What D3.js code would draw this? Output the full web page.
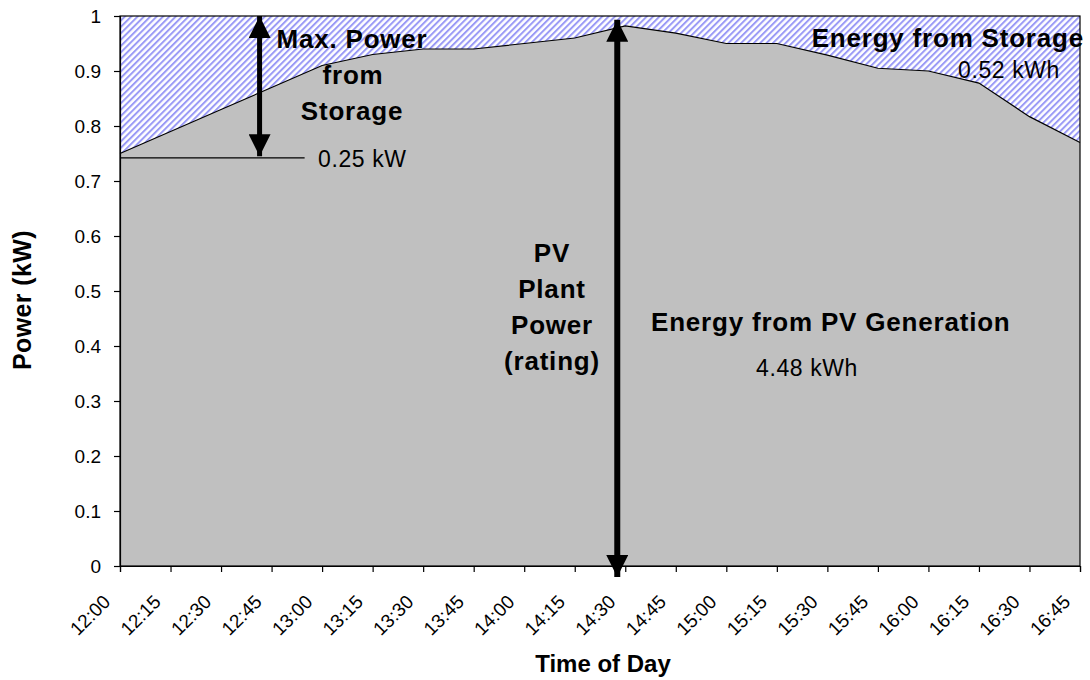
<html>
<head>
<script src='https://d3js.org/d3.v7.min.js'></script>
<style>
  body { margin: 0; background: white; }
  text { font-family: "Liberation Sans", Arial, sans-serif; fill: black; }
  .bold { font-weight: bold; }
</style>
</head>
<body>
<svg width="1090" height="680"></svg>
<script>
// data
var times = ["12:00", "12:15", "12:30", "12:45", "13:00", "13:15", "13:30", "13:45", "14:00", "14:15",
             "14:30", "14:45", "15:00", "15:15", "15:30", "15:45", "16:00", "16:15", "16:30", "16:45"];
var pvPower = [0.75, 0.79, 0.83, 0.87, 0.91, 0.93, 0.94, 0.94, 0.95, 0.96,
               0.982, 0.969, 0.95, 0.95, 0.929, 0.905, 0.90, 0.878, 0.817, 0.77];
var yTicks = [0, 0.1, 0.2, 0.3, 0.4, 0.5, 0.6, 0.7, 0.8, 0.9, 1];
var ratedPower = 1;
var storagePower = 0.25;

var margin = {left: 120, right: 10, top: 16, bottom: 114};
var width = 1090, height = 680;

var svg = d3.select("svg");

var x = d3.scalePoint().domain(times).range([margin.left, width - margin.right]);
var y = d3.scaleLinear().domain([0, 1]).range([height - margin.bottom, margin.top]);

var defs = svg.append("defs");
var pat = defs.append("pattern")
    .attr("id", "hatch")
    .attr("patternUnits", "userSpaceOnUse")
    .attr("width", 4.5)
    .attr("height", 4.5)
    .attr("patternTransform", "rotate(45)");
pat.append("rect").attr("width", 4.5).attr("height", 4.5).attr("fill", "white");
pat.append("rect").attr("width", 2).attr("height", 4.5).attr("fill", "#9a9af6");

function arrowHead(id, w, l) {
    defs.append("marker")
        .attr("id", id)
        .attr("viewBox", "0 0 " + l + " " + w)
        .attr("refX", l).attr("refY", w / 2)
        .attr("markerUnits", "userSpaceOnUse")
        .attr("markerWidth", l).attr("markerHeight", w)
        .attr("orient", "auto-start-reverse")
        .append("path")
        .attr("d", "M0,0L" + l + "," + (w / 2) + "L0," + w + "Z")
        .attr("fill", "black");
}
arrowHead("head", 22, 22);

// storage area (hatched) up to rated power
svg.append("rect")
    .attr("x", x(times[0]))
    .attr("y", y(ratedPower))
    .attr("width", x(times[times.length - 1]) - x(times[0]))
    .attr("height", y(0) - y(ratedPower))
    .attr("fill", "url(#hatch)");

// PV generation area
var area = d3.area()
    .x(function(d, i) { return x(times[i]); })
    .y0(y(0))
    .y1(function(d) { return y(d); });
svg.append("path")
    .datum(pvPower)
    .attr("d", area)
    .attr("fill", "#c0c0c0");

var line = d3.line()
    .x(function(d, i) { return x(times[i]); })
    .y(function(d) { return y(d); });
svg.append("path")
    .datum(pvPower)
    .attr("d", line)
    .attr("fill", "none")
    .attr("stroke", "black")
    .attr("stroke-width", 1.2);

// frame
svg.append("rect")
    .attr("x", x(times[0]))
    .attr("y", y(1))
    .attr("width", x(times[times.length - 1]) - x(times[0]))
    .attr("height", y(0) - y(1))
    .attr("fill", "none")
    .attr("stroke", "black")
    .attr("stroke-width", 1.2);

// axes
var yAxis = svg.append("g")
    .attr("transform", "translate(" + margin.left + ",0)")
    .call(d3.axisLeft(y).tickValues(yTicks).tickSize(6).tickPadding(13).tickFormat(d3.format("")));
yAxis.selectAll("text").attr("font-size", "19px").style("font-family", "Liberation Sans, Arial, sans-serif");

var xAxis = svg.append("g")
    .attr("transform", "translate(0," + y(0) + ")")
    .call(d3.axisBottom(x).tickSize(6));
xAxis.selectAll("text")
    .attr("font-size", "19px")
    .style("font-family", "Liberation Sans, Arial, sans-serif")
    .attr("text-anchor", "end")
    .attr("x", 0).attr("y", 0).attr("dy", 0)
    .attr("transform", "translate(-9,37) rotate(-45)");

[yAxis, xAxis].forEach(function(a) {
    a.select(".domain").attr("stroke-width", 1.2);
    a.selectAll("line").attr("stroke-width", 1.2);
});

// axis titles
svg.append("text")
    .attr("class", "bold")
    .attr("font-size", "25px")
    .attr("letter-spacing", "0.4px")
    .attr("text-anchor", "middle")
    .attr("transform", "translate(31,300) rotate(-90)")
    .text("Power (kW)");
svg.append("text")
    .attr("class", "bold")
    .attr("font-size", "24px")
    .attr("text-anchor", "middle")
    .attr("x", 603).attr("y", 672)
    .text("Time of Day");

// annotations: max power from storage
var arrowX1 = x("12:45") - 12;
var storageLineY = y(ratedPower - storagePower - 0.008);
svg.append("line")
    .attr("x1", x(times[0])).attr("x2", x("13:15") - 68)
    .attr("y1", storageLineY).attr("y2", storageLineY)
    .attr("stroke", "black").attr("stroke-width", 1.2);
svg.append("line")
    .attr("x1", arrowX1).attr("x2", arrowX1)
    .attr("y1", y(ratedPower)).attr("y2", y(ratedPower - storagePower - 0.005))
    .attr("stroke", "black").attr("stroke-width", 5)
    .attr("marker-start", "url(#head)")
    .attr("marker-end", "url(#head)");

// PV plant rating arrow
var arrowX2 = x("14:30") - 8;
svg.append("line")
    .attr("x1", arrowX2).attr("x2", arrowX2)
    .attr("y1", y(0.993)).attr("y2", y(-0.02))
    .attr("stroke", "black").attr("stroke-width", 6)
    .attr("marker-start", "url(#head)")
    .attr("marker-end", "url(#head)");

function label(txt, xp, yp, bold, anchor) {
    svg.append("text")
        .attr("class", bold ? "bold" : null)
        .attr("font-size", bold ? "26px" : "23px")
        .attr("letter-spacing", bold ? "0.8px" : "0.6px")
        .attr("text-anchor", anchor)
        .attr("x", xp).attr("y", yp)
        .text(txt);
}
label("Max. Power", 352, 48, true, "middle");
label("from", 353, 84, true, "middle");
label("Storage", 352, 120, true, "middle");
label("0.25 kW", 318, 167, false, "start");
label("Energy from Storage", 1084, 47, true, "end");
label("0.52 kWh", 1060, 78, false, "end");
label("PV", 552, 262, true, "middle");
label("Plant", 552, 298, true, "middle");
label("Power", 552, 334, true, "middle");
label("(rating)", 552, 370, true, "middle");
label("Energy from PV Generation", 651, 331, true, "start");
label("4.48 kWh", 756, 376, false, "start");
</script>
</body>
</html>
